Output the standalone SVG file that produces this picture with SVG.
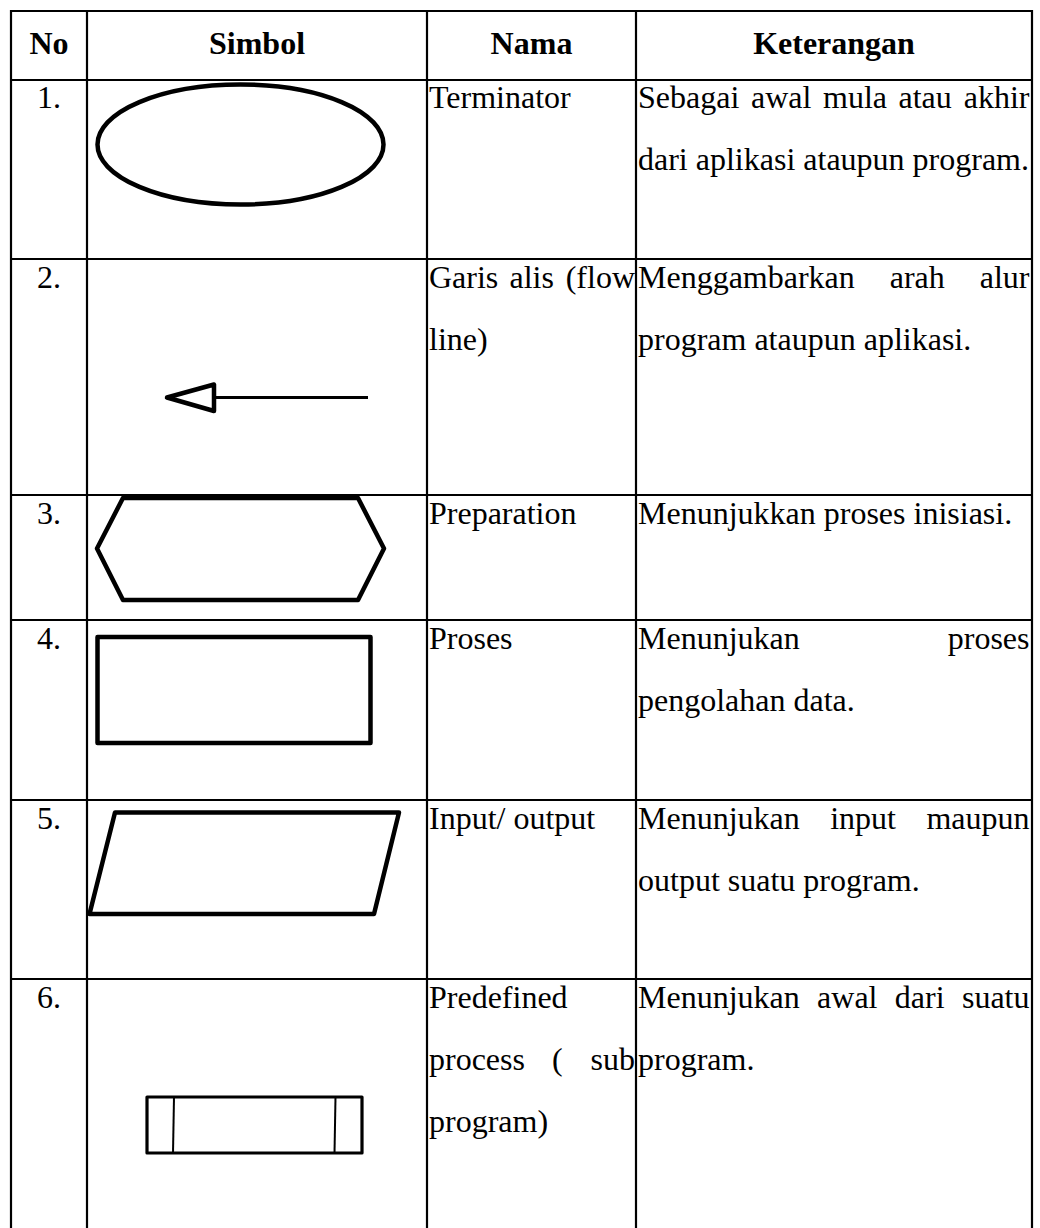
<svg xmlns="http://www.w3.org/2000/svg" width="1040" height="1228" viewBox="0 0 1040 1228">
<style>
.t{font-family:"Liberation Serif","Times New Roman",serif;font-size:32px;fill:#000}
.h{font-weight:bold;text-anchor:middle}
.c{text-anchor:middle}
.e{text-anchor:end}
.grid line{stroke:#000;stroke-width:2.2}
.sym{fill:none;stroke:#000;stroke-width:4.5;stroke-linejoin:round}
.thin{fill:none;stroke:#000;stroke-width:3}
</style>
<rect x="0" y="0" width="1040" height="1228" fill="#fff"/>
<g id="grid" class="grid">
<line x1="10" y1="11" x2="1033" y2="11"/>
<line x1="10" y1="80" x2="1033" y2="80"/>
<line x1="10" y1="259" x2="1033" y2="259"/>
<line x1="10" y1="495" x2="1033" y2="495"/>
<line x1="10" y1="620" x2="1033" y2="620"/>
<line x1="10" y1="800" x2="1033" y2="800"/>
<line x1="10" y1="979" x2="1033" y2="979"/>
<line x1="11" y1="10" x2="11" y2="1228"/>
<line x1="87" y1="10" x2="87" y2="1228"/>
<line x1="427" y1="10" x2="427" y2="1228"/>
<line x1="636" y1="10" x2="636" y2="1228"/>
<line x1="1032" y1="10" x2="1032" y2="1228"/>
</g>
<g id="header">
<text class="t h" x="49" y="54">No</text>
<text class="t h" x="257" y="54">Simbol</text>
<text class="t h" x="531.5" y="54">Nama</text>
<text class="t h" x="834" y="54">Keterangan</text>
</g>
<g id="row1-terminator">
<text class="t c" x="49" y="108">1.</text>
<ellipse class="sym" cx="240.5" cy="144.5" rx="143" ry="60" stroke-width="5"/>
<text class="t" x="429" y="108">Terminator</text>
<text class="t" y="108"><tspan x="638">Sebagai</tspan><tspan x="751">awal</tspan><tspan x="823">mula</tspan><tspan x="898.5">atau</tspan></text>
<text class="t e" x="1029.5" y="108">akhir</text>
<text class="t" x="638" y="170">dari aplikasi ataupun program.</text>
</g>
<g id="row2-flowline">
<text class="t c" x="49" y="288">2.</text>
<line class="thin" x1="214" y1="397.5" x2="368" y2="397.5"/>
<polygon class="sym" points="167,397.5 214,384.5 214,411" stroke-width="4.5"/>
<text class="t" y="288"><tspan x="429">Garis</tspan><tspan x="509.5">alis</tspan></text>
<text class="t e" x="635" y="288">(flow</text>
<text class="t" x="429" y="350">line)</text>
<text class="t" x="638" y="288">Menggambarkan</text>
<text class="t" x="889.7" y="288">arah</text>
<text class="t e" x="1029.5" y="288">alur</text>
<text class="t" x="638" y="350">program ataupun aplikasi.</text>
</g>
<g id="row3-preparation">
<text class="t c" x="49" y="524">3.</text>
<polygon class="sym" points="123,498 358,498 384,548.5 358,600 123,600 97,548.5"/>
<text class="t" x="429" y="524">Preparation</text>
<text class="t" x="638" y="524">Menunjukkan proses inisiasi.</text>
</g>
<g id="row4-proses">
<text class="t c" x="49" y="649">4.</text>
<rect class="sym" x="97.5" y="637" width="273" height="106"/>
<text class="t" x="429" y="649">Proses</text>
<text class="t" x="638" y="649">Menunjukan</text>
<text class="t e" x="1029.5" y="649">proses</text>
<text class="t" x="638" y="711">pengolahan data.</text>
</g>
<g id="row5-io">
<text class="t c" x="49" y="829">5.</text>
<polygon class="sym" points="115,812.5 399,812.5 374,914 89.5,914"/>
<text class="t" x="429" y="829">Input/ output</text>
<text class="t" y="829"><tspan x="638">Menunjukan</tspan><tspan x="830.2">input</tspan></text>
<text class="t e" x="1029.5" y="829">maupun</text>
<text class="t" x="638" y="891">output suatu program.</text>
</g>
<g id="row6-predefined">
<text class="t c" x="49" y="1008">6.</text>
<rect x="147" y="1097" width="215" height="56" fill="none" stroke="#000" stroke-width="3.2" stroke-linejoin="round"/>
<line x1="174" y1="1097" x2="173" y2="1153" stroke="#000" stroke-width="2"/>
<line x1="335.5" y1="1097" x2="334.5" y2="1153" stroke="#000" stroke-width="2"/>
<text class="t" x="429" y="1008">Predefined</text>
<text class="t" y="1070"><tspan x="429">process</tspan><tspan x="552">(</tspan></text>
<text class="t e" x="635" y="1070">sub</text>
<text class="t" x="429" y="1132">program)</text>
<text class="t" y="1008"><tspan x="638">Menunjukan</tspan><tspan x="817.1">awal</tspan><tspan x="894.8">dari</tspan></text>
<text class="t e" x="1029.5" y="1008">suatu</text>
<text class="t" x="638" y="1070">program.</text>
</g>
<g id="connectors"></g>
</svg>
